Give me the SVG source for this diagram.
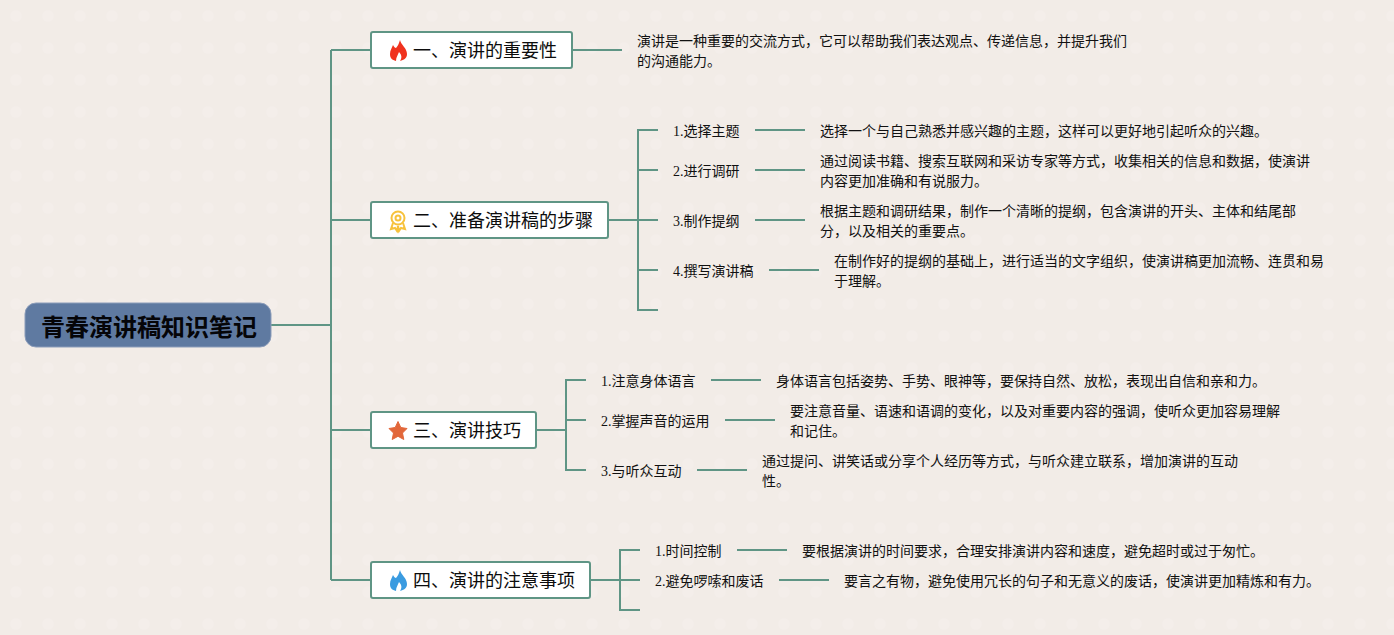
<svg xmlns="http://www.w3.org/2000/svg" width="1394" height="635" viewBox="0 0 1394 635">
<style>
text{font-family:"Liberation Serif","Noto Sans CJK SC",serif;fill:#111;font-size:14px}
.b{font-size:18px;fill:#0c0c0c}
.r{font-size:24px;font-weight:700;fill:#050508;font-family:"Liberation Sans","Noto Sans CJK SC",sans-serif}
.box{fill:#fff;stroke:#5f9585;stroke-width:2}
#connectors path{fill:none;stroke:#5f9585;stroke-width:2}
</style>
<defs>
<pattern id="dots" width="32" height="32" patternUnits="userSpaceOnUse"><rect width="32" height="32" fill="#f2ece7"/><circle cx="16" cy="16" r="6" fill="#f4eeea"/></pattern>
</defs>
<rect width="1394" height="635" fill="url(#dots)"/>
<g id="connectors">
<path d="M271 325H331M331 50V580M331 50H370M331 220H370M331 430H370M331 580H370"/>
<path d="M573 50H622"/>
<path d="M609 220H638M658 130H638V310H658M638 170H658M638 220H658M638 270H658"/>
<path d="M755 130H805M755 170H805M755 220H805M769 270H819"/>
<path d="M537 430H566M586 380H566V470H586M566 420H586"/>
<path d="M711 380H761M725 420H775M697 470H747"/>
<path d="M591 580H620M640 550H620V610H640M620 580H640"/>
<path d="M737 550H787M779 580H829"/>
</g>
<g id="root"><rect x="25" y="303" width="246" height="44" rx="11" fill="#5f7aa1" stroke="#8c9dba" stroke-width="1"/><text class="r" x="41" y="336">青春演讲稿知识笔记</text></g>
<g id="n1"><rect class="box" x="371" y="32" width="201" height="36" rx="2"/>
<path d="M400 40C401 45 407 48 407 54C407 58 404 60 400 61C402 58 402 55 399 52C398 55 396 57 396 61C392 60 390 58 390 54C390 50 392 48 393 45C394 47 395 48 396 48C398 46 399 43 400 40Z" fill="#f0321e"/>
<text class="b" x="413" y="57">一、演讲的重要性</text></g>
<g id="n1t"><text x="637" y="46">演讲是一种重要的交流方式，它可以帮助我们表达观点、传递信息，并提升我们</text><text x="637" y="66">的沟通能力。</text></g>
<g id="n2"><rect class="box" x="371" y="202" width="237" height="36" rx="2"/>
<g fill="none" stroke="#f7c23c" stroke-width="2"><circle cx="398" cy="218" r="6.500"/><circle cx="398" cy="218" r="2.500"/><path d="M393 223L391 229L395 228L397 231L398 226L399 231L401 228L405 229L403 223"/></g>
<text class="b" x="413" y="227">二、准备演讲稿的步骤</text></g>
<g id="n21"><text x="673" y="136">1.选择主题</text></g>
<g id="n21t"><text x="820" y="136">选择一个与自己熟悉并感兴趣的主题，这样可以更好地引起听众的兴趣。</text></g>
<g id="n22"><text x="673" y="176">2.进行调研</text></g>
<g id="n22t"><text x="820" y="166">通过阅读书籍、搜索互联网和采访专家等方式，收集相关的信息和数据，使演讲</text><text x="820" y="186">内容更加准确和有说服力。</text></g>
<g id="n23"><text x="673" y="226">3.制作提纲</text></g>
<g id="n23t"><text x="820" y="216">根据主题和调研结果，制作一个清晰的提纲，包含演讲的开头、主体和结尾部</text><text x="820" y="236">分，以及相关的重要点。</text></g>
<g id="n24"><text x="673" y="276">4.撰写演讲稿</text></g>
<g id="n24t"><text x="834" y="266">在制作好的提纲的基础上，进行适当的文字组织，使演讲稿更加流畅、连贯和易</text><text x="834" y="286">于理解。</text></g>
<g id="n3"><rect class="box" x="371" y="412" width="165" height="36" rx="2"/>
<path d="M398 421.500L400.800 427.500L407 428.500L402.500 433L403.800 439.500L398 436.300L392.200 439.500L393.500 433L389 428.500L395.200 427.500Z" fill="#e2673a" stroke="#e2673a" stroke-linejoin="round"/>
<text class="b" x="413" y="437">三、演讲技巧</text></g>
<g id="n31"><text x="601" y="386">1.注意身体语言</text></g>
<g id="n31t"><text x="776" y="386">身体语言包括姿势、手势、眼神等，要保持自然、放松，表现出自信和亲和力。</text></g>
<g id="n32"><text x="601" y="426">2.掌握声音的运用</text></g>
<g id="n32t"><text x="790" y="416">要注意音量、语速和语调的变化，以及对重要内容的强调，使听众更加容易理解</text><text x="790" y="436">和记住。</text></g>
<g id="n33"><text x="601" y="476">3.与听众互动</text></g>
<g id="n33t"><text x="762" y="466">通过提问、讲笑话或分享个人经历等方式，与听众建立联系，增加演讲的互动</text><text x="762" y="486">性。</text></g>
<g id="n4"><rect class="box" x="371" y="562" width="219" height="36" rx="2"/>
<path d="M400 570C401 575 407 578 407 584C407 588 404 590 400 591C402 588 402 585 399 582C398 585 396 587 396 591C392 590 390 588 390 584C390 580 392 578 393 575C394 577 395 578 396 578C398 576 399 573 400 570Z" fill="#3a9be0"/>
<text class="b" x="413" y="587">四、演讲的注意事项</text></g>
<g id="n41"><text x="655" y="556">1.时间控制</text></g>
<g id="n41t"><text x="802" y="556">要根据演讲的时间要求，合理安排演讲内容和速度，避免超时或过于匆忙。</text></g>
<g id="n42"><text x="655" y="586">2.避免啰嗦和废话</text></g>
<g id="n42t"><text x="844" y="586">要言之有物，避免使用冗长的句子和无意义的废话，使演讲更加精炼和有力。</text></g>
</svg>
